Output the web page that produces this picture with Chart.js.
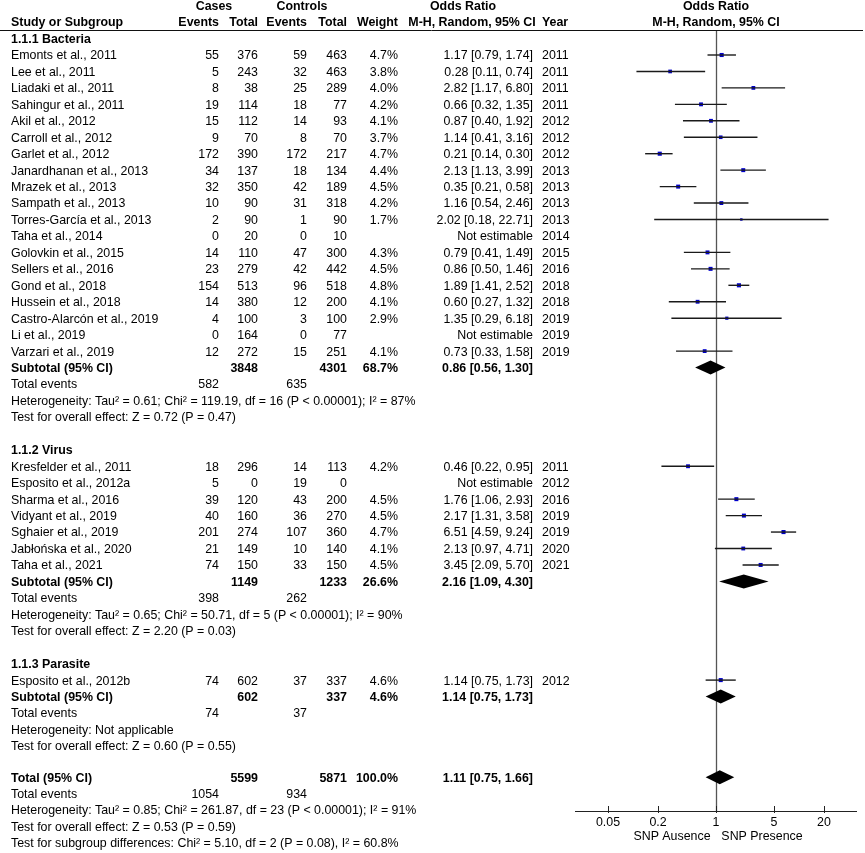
<!DOCTYPE html>
<html>
<head>
<meta charset="utf-8">
<title>Forest plot</title>
<script src="https://cdn.jsdelivr.net/npm/chart.js@4.4.0/dist/chart.umd.min.js"></script>
<style>
  html, body { margin: 0; padding: 0; background: #fff; }
  #wrap { width: 865px; height: 853px; }
</style>
</head>
<body>
<div id="wrap"><canvas id="forest" width="865" height="853"></canvas></div>
<script>
// ---- data ----
const groupNames = ['1.1.1 Bacteria', '1.1.2 Virus', '1.1.3 Parasite'];

const studies = [
  'Emonts et al., 2011', 'Lee et al., 2011', 'Liadaki et al., 2011', 'Sahingur et al., 2011',
  'Akil et al., 2012', 'Carroll et al., 2012', 'Garlet et al., 2012', 'Janardhanan et al., 2013',
  'Mrazek et al., 2013', 'Sampath et al., 2013', 'Torres-García et al., 2013', 'Taha et al., 2014',
  'Golovkin et al., 2015', 'Sellers et al., 2016', 'Gond et al., 2018', 'Hussein et al., 2018',
  'Castro-Alarcón et al., 2019', 'Li et al., 2019', 'Varzari et al., 2019',
  'Kresfelder et al., 2011', 'Esposito et al., 2012a', 'Sharma et al., 2016', 'Vidyant et al., 2019',
  'Sghaier et al., 2019', 'Jabłońska et al., 2020', 'Taha et al., 2021',
  'Esposito et al., 2012b'
];
const studyGroup = [0,0,0,0,0,0,0,0,0,0,0,0,0,0,0,0,0,0,0, 1,1,1,1,1,1,1, 2];
const caseEvents = [55, 5, 8, 19, 15, 9, 172, 34, 32, 10, 2, 0, 14, 23, 154, 14, 4, 0, 12, 18, 5, 39, 40, 201, 21, 74, 74];
const caseTotals = [376, 243, 38, 114, 112, 70, 390, 137, 350, 90, 90, 20, 110, 279, 513, 380, 100, 164, 272, 296, 0, 120, 160, 274, 149, 150, 602];
const ctrlEvents = [59, 32, 25, 18, 14, 8, 172, 18, 42, 31, 1, 0, 47, 42, 96, 12, 3, 0, 15, 14, 19, 43, 36, 107, 10, 33, 37];
const ctrlTotals = [463, 463, 289, 77, 93, 70, 217, 134, 189, 318, 90, 10, 300, 442, 518, 200, 100, 77, 251, 113, 0, 200, 270, 360, 140, 150, 337];
const weights = [4.7, 3.8, 4.0, 4.2, 4.1, 3.7, 4.7, 4.4, 4.5, 4.2, 1.7, null, 4.3, 4.5, 4.8, 4.1, 2.9, null, 4.1, 4.2, null, 4.5, 4.5, 4.7, 4.1, 4.5, 4.6];
const oddsRatios = [1.17, 0.28, 2.82, 0.66, 0.87, 1.14, 0.21, 2.13, 0.35, 1.16, 2.02, null, 0.79, 0.86, 1.89, 0.60, 1.35, null, 0.73, 0.46, null, 1.76, 2.17, 6.51, 2.13, 3.45, 1.14];
const ciLow = [0.79, 0.11, 1.17, 0.32, 0.40, 0.41, 0.14, 1.13, 0.21, 0.54, 0.18, null, 0.41, 0.50, 1.41, 0.27, 0.29, null, 0.33, 0.22, null, 1.06, 1.31, 4.59, 0.97, 2.09, 0.75];
const ciHigh = [1.74, 0.74, 6.80, 1.35, 1.92, 3.16, 0.30, 3.99, 0.58, 2.46, 22.71, null, 1.49, 1.46, 2.52, 1.32, 6.18, null, 1.58, 0.95, null, 2.93, 3.58, 9.24, 4.71, 5.70, 1.73];
const years = [2011, 2011, 2011, 2011, 2012, 2012, 2012, 2013, 2013, 2013, 2013, 2014, 2015, 2016, 2018, 2018, 2019, 2019, 2019, 2011, 2012, 2016, 2019, 2019, 2020, 2021, 2012];

const subCaseEvents = [582, 398, 74];
const subCaseTotals = [3848, 1149, 602];
const subCtrlEvents = [635, 262, 37];
const subCtrlTotals = [4301, 1233, 337];
const subWeights = [68.7, 26.6, 4.6];
const subOR = [0.86, 2.16, 1.14];
const subLow = [0.56, 1.09, 0.75];
const subHigh = [1.30, 4.30, 1.73];
const subHeterogeneity = [
  'Heterogeneity: Tau² = 0.61; Chi² = 119.19, df = 16 (P < 0.00001); I² = 87%',
  'Heterogeneity: Tau² = 0.65; Chi² = 50.71, df = 5 (P < 0.00001); I² = 90%',
  'Heterogeneity: Not applicable'
];
const subEffect = [
  'Test for overall effect: Z = 0.72 (P = 0.47)',
  'Test for overall effect: Z = 2.20 (P = 0.03)',
  'Test for overall effect: Z = 0.60 (P = 0.55)'
];

const totalCounts = [5599, 5871];       // cases total, controls total
const totalEvents = [1054, 934];
const totalWeight = 100.0;
const totalOR = [1.11, 0.75, 1.66];     // estimate, low, high
const totalNotes = [
  'Heterogeneity: Tau² = 0.85; Chi² = 261.87, df = 23 (P < 0.00001); I² = 91%',
  'Test for overall effect: Z = 0.53 (P = 0.59)',
  'Test for subgroup differences: Chi² = 5.10, df = 2 (P = 0.08), I² = 60.8%'
];

const axisTicks = [0.05, 0.2, 1, 5, 20];
const axisLabels = ['SNP Ausence', 'SNP Presence'];

// ---- row layout ----
const headerRow = [], studyRow = [], subRow = [], eventsRow = [], hetRow = [], testRow = [];
let r = -1;
groupNames.forEach((g, gi) => {
  headerRow[gi] = r++;
  studies.forEach((s, i) => { if (studyGroup[i] === gi) studyRow[i] = r++; });
  subRow[gi] = r++;
  eventsRow[gi] = r++;
  hetRow[gi] = r++;
  testRow[gi] = r++;
  r++;
});
const totalRow = r - 0.1;

const fmt = v => v.toFixed(2);
const ciText = (o, l, h) => fmt(o) + ' [' + fmt(l) + ', ' + fmt(h) + ']';

// columns (x positions of text)
const COL = { name: 11, cEv: 219, cTot: 258, kEv: 307, kTot: 347, wt: 398, ci: 533, year: 542 };
const FONT = '12.4px "Liberation Sans", Arial, sans-serif';
const BOLD = 'bold 12.4px "Liberation Sans", Arial, sans-serif';

// ---- datasets ----
const whiskers = [];
studies.forEach((s, i) => {
  if (oddsRatios[i] == null) return;
  whiskers.push({
    type: 'scatter',
    showLine: true,
    data: [{ x: ciLow[i], y: studyRow[i] }, { x: ciHigh[i], y: studyRow[i] }],
    borderColor: '#1a1a1a',
    borderWidth: 1.4,
    pointRadius: 0
  });
});

const pointIdx = studies.map((s, i) => i).filter(i => oddsRatios[i] != null);
const squares = {
  type: 'scatter',
  data: pointIdx.map(i => ({ x: oddsRatios[i], y: studyRow[i] })),
  pointStyle: 'rect',
  pointRadius: pointIdx.map(i => 2.9 * Math.sqrt(weights[i] / 4.7)),
  backgroundColor: '#0000cc',
  borderColor: '#0000cc',
  borderWidth: 0
};

// ---- drawing helpers ----
function text(ctx, t, x, y, align, bold) {
  ctx.font = bold ? BOLD : FONT;
  ctx.textAlign = align;
  ctx.fillText(t, x, y);
}

const forestDecor = {
  id: 'forestDecor',
  beforeDatasetsDraw(chart) {
    const ctx = chart.ctx, xs = chart.scales.x, a = chart.chartArea;
    ctx.save();
    // header rule
    ctx.strokeStyle = '#111';
    ctx.lineWidth = 1;
    ctx.beginPath();
    ctx.moveTo(0, a.top - 0.5);
    ctx.lineTo(863, a.top - 0.5);
    ctx.stroke();
    // line of no effect
    const x1 = Math.round(xs.getPixelForValue(1)) + 0.5;
    ctx.strokeStyle = '#555';
    ctx.lineWidth = 1.3;
    ctx.beginPath();
    ctx.moveTo(x1, a.top);
    ctx.lineTo(x1, a.bottom);
    ctx.stroke();
    // x axis
    ctx.strokeStyle = '#222';
    ctx.lineWidth = 1;
    ctx.beginPath();
    ctx.moveTo(a.left, a.bottom + 0.5);
    ctx.lineTo(a.right, a.bottom + 0.5);
    axisTicks.forEach(t => {
      const px = Math.round(xs.getPixelForValue(t)) + 0.5;
      ctx.moveTo(px, a.bottom - 5);
      ctx.lineTo(px, a.bottom + 2);
    });
    ctx.stroke();
    ctx.fillStyle = '#000';
    ctx.textBaseline = 'middle';
    axisTicks.forEach(t => text(ctx, String(t), xs.getPixelForValue(t), a.bottom + 12, 'center'));
    text(ctx, axisLabels[0], 672, a.bottom + 26, 'center');
    text(ctx, axisLabels[1], 762, a.bottom + 26, 'center');
    ctx.restore();
  },
  afterDatasetsDraw(chart) {
    const ctx = chart.ctx, xs = chart.scales.x, ys = chart.scales.y;
    ctx.save();
    ctx.fillStyle = '#000';
    const diamond = (o, l, h, row) => {
      const y = ys.getPixelForValue(row);
      ctx.beginPath();
      ctx.moveTo(xs.getPixelForValue(l), y);
      ctx.lineTo(xs.getPixelForValue(o), y - 7);
      ctx.lineTo(xs.getPixelForValue(h), y);
      ctx.lineTo(xs.getPixelForValue(o), y + 7);
      ctx.closePath();
      ctx.fill();
    };
    groupNames.forEach((g, gi) => diamond(subOR[gi], subLow[gi], subHigh[gi], subRow[gi]));
    diamond(totalOR[0], totalOR[1], totalOR[2], totalRow);
    ctx.restore();
  },
  afterDraw(chart) {
    const ctx = chart.ctx, ys = chart.scales.y;
    const Y = row => ys.getPixelForValue(row) + 1;
    ctx.save();
    ctx.fillStyle = '#000';
    ctx.textBaseline = 'middle';

    // column headings
    text(ctx, 'Cases', 214, 7, 'center', true);
    text(ctx, 'Controls', 302, 7, 'center', true);
    text(ctx, 'Odds Ratio', 463, 7, 'center', true);
    text(ctx, 'Odds Ratio', 716, 7, 'center', true);
    text(ctx, 'Study or Subgroup', COL.name, 23, 'left', true);
    text(ctx, 'Events', COL.cEv, 23, 'right', true);
    text(ctx, 'Total', COL.cTot, 23, 'right', true);
    text(ctx, 'Events', COL.kEv, 23, 'right', true);
    text(ctx, 'Total', COL.kTot, 23, 'right', true);
    text(ctx, 'Weight', COL.wt, 23, 'right', true);
    text(ctx, 'M-H, Random, 95% CI', 472, 23, 'center', true);
    text(ctx, 'Year', COL.year, 23, 'left', true);
    text(ctx, 'M-H, Random, 95% CI', 716, 23, 'center', true);

    groupNames.forEach((g, gi) => {
      text(ctx, g, COL.name, Y(headerRow[gi]), 'left', true);
      studies.forEach((s, i) => {
        if (studyGroup[i] !== gi) return;
        const y = Y(studyRow[i]);
        text(ctx, s, COL.name, y, 'left');
        text(ctx, String(caseEvents[i]), COL.cEv, y, 'right');
        text(ctx, String(caseTotals[i]), COL.cTot, y, 'right');
        text(ctx, String(ctrlEvents[i]), COL.kEv, y, 'right');
        text(ctx, String(ctrlTotals[i]), COL.kTot, y, 'right');
        if (weights[i] != null) text(ctx, weights[i].toFixed(1) + '%', COL.wt, y, 'right');
        text(ctx, oddsRatios[i] == null ? 'Not estimable' : ciText(oddsRatios[i], ciLow[i], ciHigh[i]), COL.ci, y, 'right');
        text(ctx, String(years[i]), COL.year, y, 'left');
      });
      let y = Y(subRow[gi]);
      text(ctx, 'Subtotal (95% CI)', COL.name, y, 'left', true);
      text(ctx, String(subCaseTotals[gi]), COL.cTot, y, 'right', true);
      text(ctx, String(subCtrlTotals[gi]), COL.kTot, y, 'right', true);
      text(ctx, subWeights[gi].toFixed(1) + '%', COL.wt, y, 'right', true);
      text(ctx, ciText(subOR[gi], subLow[gi], subHigh[gi]), COL.ci, y, 'right', true);
      y = Y(eventsRow[gi]);
      text(ctx, 'Total events', COL.name, y, 'left');
      text(ctx, String(subCaseEvents[gi]), COL.cEv, y, 'right');
      text(ctx, String(subCtrlEvents[gi]), COL.kEv, y, 'right');
      text(ctx, subHeterogeneity[gi], COL.name, Y(hetRow[gi]), 'left');
      text(ctx, subEffect[gi], COL.name, Y(testRow[gi]), 'left');
    });

    let y = Y(totalRow);
    text(ctx, 'Total (95% CI)', COL.name, y, 'left', true);
    text(ctx, String(totalCounts[0]), COL.cTot, y, 'right', true);
    text(ctx, String(totalCounts[1]), COL.kTot, y, 'right', true);
    text(ctx, totalWeight.toFixed(1) + '%', COL.wt, y, 'right', true);
    text(ctx, ciText(totalOR[0], totalOR[1], totalOR[2]), COL.ci, y, 'right', true);
    y = Y(totalRow + 1);
    text(ctx, 'Total events', COL.name, y, 'left');
    text(ctx, String(totalEvents[0]), COL.cEv, y, 'right');
    text(ctx, String(totalEvents[1]), COL.kEv, y, 'right');
    totalNotes.forEach((t, k) => text(ctx, t, COL.name, Y(totalRow + 2 + k), 'left'));
    ctx.restore();
  }
};

// ---- chart ----
const ROW_TOP = 31, ROW_BOTTOM = 811, ROW0 = 55, ROW_STEP = 16.45;

new Chart(document.getElementById('forest').getContext('2d'), {
  type: 'scatter',
  data: { datasets: [...whiskers, squares] },
  options: {
    responsive: false,
    animation: false,
    events: [],
    layout: { padding: { left: 575, right: 8, top: ROW_TOP, bottom: 853 - ROW_BOTTOM } },
    scales: {
      x: { type: 'logarithmic', min: 0.02, max: 50, display: false },
      y: {
        type: 'linear', reverse: true, display: false,
        min: (ROW_TOP - ROW0) / ROW_STEP,
        max: (ROW_BOTTOM - ROW0) / ROW_STEP
      }
    },
    plugins: { legend: { display: false }, tooltip: { enabled: false } }
  },
  plugins: [forestDecor]
});
</script>
</body>
</html>
